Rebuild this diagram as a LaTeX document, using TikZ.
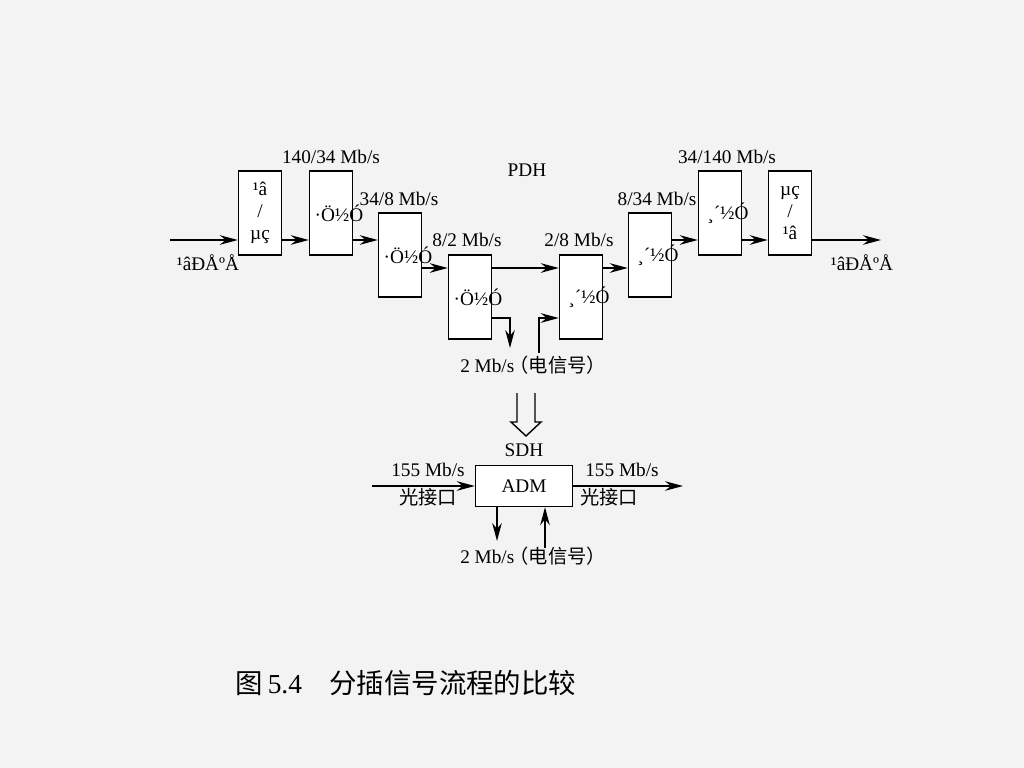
\documentclass[tikz,border=0pt]{standalone}
\usepackage{fontspec}
\setmainfont{Liberation Serif}
\newfontfamily\cjk{Noto Sans CJK SC}
\usepackage{tikz}
\usetikzlibrary{positioning,arrows.meta,calc}
\definecolor{bg}{HTML}{F3F3F3}
\tikzstyle{blk} = [
rectangle,
draw=black,
fill=white,
line width=1pt,
minimum width=1.075cm,
minimum height=2.1cm,
inner sep=0pt,
align=center,
font=\fontsize{13.7}{15.6}\selectfont
]
\tikzstyle{adm} = [
rectangle,
draw=black,
fill=white,
line width=1pt,
minimum width=2.425cm,
minimum height=1.025cm,
inner sep=0pt,
font=\fontsize{13.7}{16}\selectfont
]
\tikzstyle{lbl} = [
inner sep=0pt,
font=\fontsize{13.7}{16}\selectfont
]
\tikzstyle{arrow} = [
line width=1pt,
-{Stealth[length=4.5mm,width=2.4mm]}
]
\newcommand{\mj}[1]{\makebox[0pt]{\hspace{0.4cm}#1}}

\begin{document}
\begin{tikzpicture}[x=0.025cm,y=-0.025cm]
	\fill[bg] (0,0) rectangle (1024,768);
	\useasboundingbox (0,0) rectangle (1024,768);
	%PDH nodes
	\node[blk] (b1) at (260,213) {¹â\\/\\µç};
	\node[blk] (b2) at (331,213) {\mj{·Ö½Ó}};
	\node[blk] (b3) at (400,255) {\mj{·Ö½Ó}};
	\node[blk] (b4) at (470,297) {\mj{·Ö½Ó}};
	\node[blk] (b5) at (581,297) {\mj{¸´½Ó}};
	\node[blk] (b6) at (650,255) {\mj{¸´½Ó}};
	\node[blk] (b7) at (720,213) {\mj{¸´½Ó}};
	\node[blk] (b8) at (790,213) {µç\\/\\¹â};
	%Labels
	\node[lbl] (pdh) at (527,170) {PDH};
	\node[lbl] (r140) at (331,157) {140/34 Mb/s};
	\node[lbl] (r34) at (399,199) {34/8 Mb/s};
	\node[lbl] (r8) at (467,240) {8/2 Mb/s};
	\node[lbl] (r2) at (579,240) {2/8 Mb/s};
	\node[lbl] (q8) at (657,199) {8/34 Mb/s};
	\node[lbl] (q34) at (727,157) {34/140 Mb/s};
	\node[lbl] (optin) at (208,263) {¹âÐÅºÅ};
	\node[lbl] (optout) at (862,263) {¹âÐÅºÅ};
	\node[lbl,anchor=west] (tribu) at (460,365) {2 Mb/s\kern-0.25em{\cjk （电信号）}};
	%Arrows
	\coordinate (r1) at (0,240);
	\coordinate (r2) at (0,268);
	\coordinate (r3) at (0,318);
	\coordinate (in) at (170,240);
	\coordinate (out) at (881,240);
	\coordinate (drop) at (510,348);
	\coordinate (add) at (539,353);
	\draw[arrow] (in) -- (b1.west |- in);
	\draw[arrow] (b1.east |- r1) -- (b2.west |- r1);
	\draw[arrow] (b2.east |- r1) -- (b3.west |- r1);
	\draw[arrow] (b3.east |- r2) -- (b4.west |- r2);
	\draw[arrow] (b4.east |- r2) -- (b5.west |- r2);
	\draw[arrow] (b5.east |- r2) -- (b6.west |- r2);
	\draw[arrow] (b6.east |- r1) -- (b7.west |- r1);
	\draw[arrow] (b7.east |- r1) -- (b8.west |- r1);
	\draw[arrow] (b8.east |- out) -- (out);
	\draw[arrow] (b4.east |- r3) -| (drop);
	\draw[arrow] (add) |- (b5.west |- r3);
	%Hollow arrow
	\draw[line width=1pt,line join=miter] (517,393) -- (517,422) -- (511,422) -- (526,436) -- (541,422) -- (535,422) -- (535,393);
	%SDH nodes
	\node[lbl] (sdh) at (524,450) {SDH};
	\node[adm] (mux) at (524,486) {ADM};
	\node[lbl] (lin) at (428,470) {155 Mb/s};
	\node[lbl] (lin2) at (428,497) {\cjk 光接口};
	\node[lbl] (lout) at (622,470) {155 Mb/s};
	\node[lbl] (lout2) at (609,497) {\cjk 光接口};
	\node[lbl,anchor=west] (tribd) at (460,556) {2 Mb/s\kern-0.25em{\cjk （电信号）}};
	\coordinate (ain) at (372,486);
	\coordinate (aout) at (683,486);
	\coordinate (dn) at (497,541);
	\coordinate (up) at (545,548);
	\draw[arrow] (ain) -- (mux.west);
	\draw[arrow] (mux.east) -- (aout);
	\draw[arrow] (mux.south -| dn) -- (dn);
	\draw[arrow] (up) -- (mux.south -| up);
	%Caption
	\node[inner sep=0pt,font=\fontsize{19.5}{22}\selectfont] (cap) at (406,683) {{\cjk 图}\,5.4\hspace{1em}{\cjk 分插信号流程的比较}};
\end{tikzpicture}
\end{document}
